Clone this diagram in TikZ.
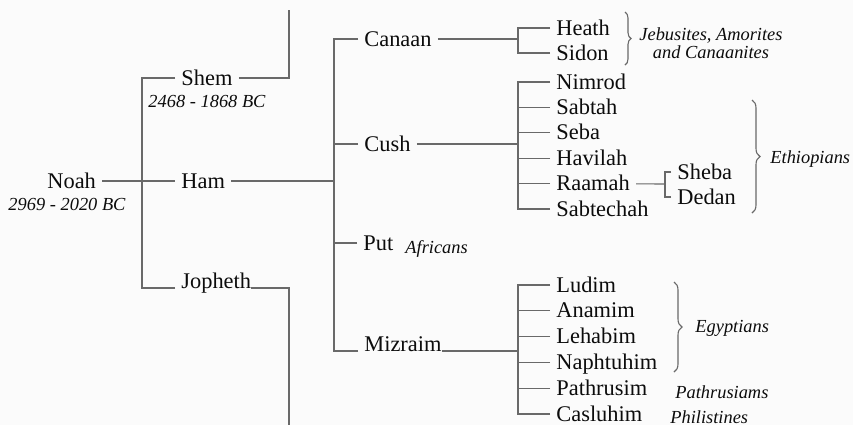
\documentclass[tikz,border=0pt]{standalone}
\usepackage{fontspec}
\setmainfont{Liberation Serif}
\newfontfamily\chartfont{Liberation Serif}
\usetikzlibrary{positioning,decorations.pathreplacing}
\definecolor{linegray}{RGB}{105,105,105}
\definecolor{inkblack}{RGB}{12,12,12}
\definecolor{paper}{RGB}{251,251,251}

\begin{document}
\begin{tikzpicture}[x=0.5pt, y=-0.5pt,
    person/.style={font=\chartfont\fontsize{11.2}{13}\selectfont, text=inkblack, inner sep=3pt,
                   anchor=west, text height=8.8pt, text depth=1.8pt},
    dates/.style={font=\chartfont\fontsize{9.2}{11}\selectfont\itshape, text=inkblack, inner sep=0pt},
    people/.style={font=\chartfont\fontsize{9.2}{7.6}\selectfont\itshape, text=inkblack,
                   inner sep=0pt, align=center},
    branch/.style={draw=linegray, line width=0.55pt},
    group/.style={draw=linegray, line width=0.55pt, decorate,
                  decoration={brace, amplitude=#1}}
]

\fill[paper] (0,0) rectangle (853,425);
\useasboundingbox (0,0) rectangle (853,425);

\def\kidx{550}
\def\dy{25.4}

% Noah and his sons
\node[person] (noah) at (41,181) {Noah};
\node[dates] (noahdates) at (67,204) {2969 - 2020 BC};
\node[person] (shem) at (175,78) {Shem};
\node[dates] (shemdates) at (207,101) {2468 - 1868 BC};
\node[person] (ham) at (175,181) {Ham};
\node[person, anchor=base west] (jopheth) at (175,288) {Jopheth};

\coordinate (noahbar) at (142,181);
\coordinate (shemup) at (289,10);
\coordinate (jophethdown) at (289,425);

\draw[branch] (noah) -- (ham);
\draw[branch] (shem.west) -| (noahbar);
\draw[branch] (jopheth.base west) -| (noahbar);
\draw[branch] (shem.east) -| (shemup);
\draw[branch] ([xshift=-3pt]jopheth.base east) -| (jophethdown);

% sons of Ham
\node[person] (canaan) at (358,39) {Canaan};
\node[person] (cush) at (358,144) {Cush};
\node[person] (put) at (357,243) {Put};
\node[person, anchor=base west] (mizraim) at (358,351) {Mizraim};
\node[dates, anchor=west] (africans) at (405,249) {Africans};

\coordinate (hambar) at (334,181);
\draw[branch] (ham) -- (hambar);
\foreach \n in {canaan, cush, put}
    \draw[branch] (\n.west) -| (hambar);
\draw[branch] (mizraim.base west) -| (hambar);

% Canaan
\node[person] (heath) at (\kidx,28) {Heath};
\node[person] (sidon) at (\kidx,53) {Sidon};
\coordinate (canaanbar) at (518,39);
\draw[branch] (canaan) -- (canaanbar);
\foreach \n in {heath, sidon}
    \draw[branch] (\n.west) -| (canaanbar);
\draw[group=3pt] (625,12) -- (625,65);
\node[people] (jebusites) at (711,43) {Jebusites, Amorites\\and Canaanites};

% Cush
\foreach \n/\t [count=\k from 0] in {nimrod/Nimrod, sabtah/Sabtah, seba/Seba,
        havilah/Havilah, raamah/Raamah, sabtechah/Sabtechah}
    \node[person] (\n) at (\kidx, 82+\k*\dy) {\t};
\coordinate (cushbar) at (518,144);
\draw[branch] (cush) -- (cushbar);
\foreach \n in {nimrod, sabtah, seba, havilah, raamah, sabtechah}
    \draw[branch] (\n.west) -| (cushbar);

\node[person] (sheba) at (671,172) {Sheba};
\node[person] (dedan) at (671,197) {Dedan};
\coordinate (raamahbar) at (665,184);
\draw[branch] (raamah) -- (raamahbar);
\foreach \n in {sheba, dedan}
    \draw[branch] (\n.west) -| (raamahbar);

\draw[group=4pt] (752,100) -- (752,213);
\node[dates, anchor=west] (ethiopians) at (770,159) {Ethiopians};

% Mizraim
\foreach \n/\t [count=\k from 0] in {ludim/Ludim, anamim/Anamim, lehabim/Lehabim,
        naphtuhim/Naphtuhim, pathrusim/Pathrusim, casluhim/Casluhim}
    \node[person] (\n) at (\kidx, 285+\k*25.8) {\t};
\coordinate (mizraimbar) at (518,351);
\draw[branch] ([xshift=-3pt]mizraim.base east) -- (mizraimbar);
\foreach \n in {ludim, anamim, lehabim, naphtuhim, pathrusim, casluhim}
    \draw[branch] (\n.west) -| (mizraimbar);

\draw[group=4pt] (674,282) -- (674,372);
\node[dates, anchor=west] (egyptians) at (695,328) {Egyptians};
\node[dates, anchor=west] (pathrusiams) at (675,392) {Pathrusiams};
\node[dates, anchor=west] (philistines) at (670,417) {Philistines};

\end{tikzpicture}
\end{document}
